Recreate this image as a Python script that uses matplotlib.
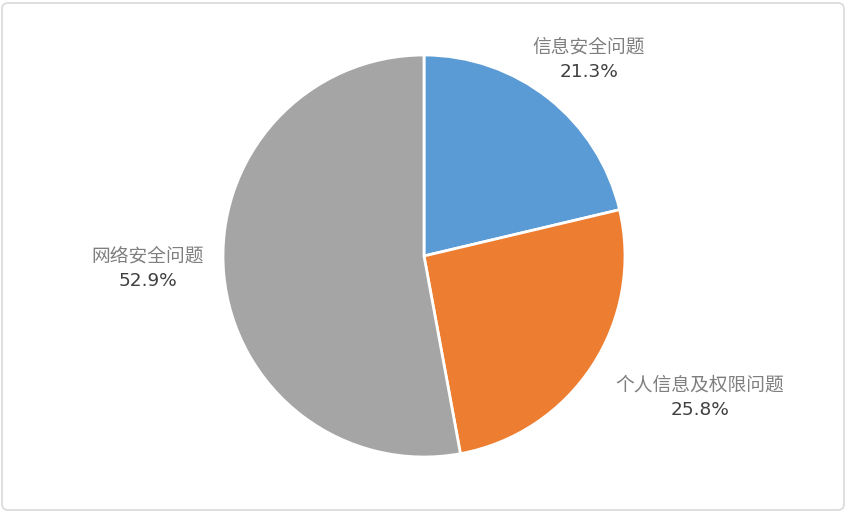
import matplotlib.pyplot as plt
from matplotlib.patches import FancyBboxPatch

plt.rcParams['font.family'] = ['Noto Sans CJK SC', 'DejaVu Sans']

categories = ['信息安全问题', '个人信息及权限问题', '网络安全问题']
shares = [21.3, 25.8, 52.9]
colors = ['#5B9BD5', '#ED7D31', '#A5A5A5']

# label anchor points in pixel coords (x, y from top)
label_pos = [(589, 47), (700, 385), (148, 256)]

W, H = 847, 513
fig = plt.figure(figsize=(W / 100, H / 100), dpi=100)
ax = fig.add_axes([0, 0, 1, 1])

# light outer frame
frame = FancyBboxPatch((2, 3), W - 5, H - 6, boxstyle='round,pad=0,rounding_size=6',
                       fc='white', ec='#D9D9D9', lw=1.2, zorder=0)
ax.add_patch(frame)

ax.pie(shares, colors=colors, startangle=90, counterclock=False,
       center=(424, H - 256), radius=201,
       wedgeprops=dict(edgecolor='white', linewidth=2), frame=True)
ax.set_xlim(0, W)
ax.set_ylim(0, H)
ax.set_aspect('equal')
ax.axis('off')

for name, val, (x, y) in zip(categories, shares, label_pos):
    ax.text(x, H - y, name, ha='center', va='center', fontsize=13.5, color='#7F7F7F')
    ax.text(x, H - y - 25, f'{val}%', ha='center', va='center', fontsize=13.3,
            color='#404040', family='DejaVu Sans')

fig.savefig('out.png', dpi=100)
